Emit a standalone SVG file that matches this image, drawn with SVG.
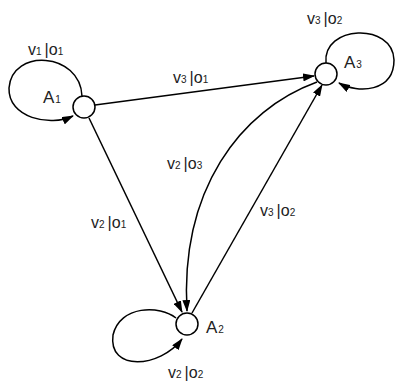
<svg xmlns="http://www.w3.org/2000/svg" width="396" height="383" viewBox="0 0 396 383">
  <style>
    .edge { fill: none; stroke: #000; stroke-width: 1.5; }
    .state { fill: #fff; stroke: #000; stroke-width: 1.5; }
    .lbl { font-family: "Liberation Sans", Arial, sans-serif; font-size: 16px; fill: #222; }
    .sub { font-size: 10px; }
    .name { font-family: "Liberation Sans", Arial, sans-serif; font-size: 17px; fill: #222; }
  </style>
  <defs>
    <marker id="arrow" markerWidth="12" markerHeight="8" refX="11" refY="4" orient="auto" markerUnits="userSpaceOnUse">
      <path d="M0,0 L12,4 L0,8 Z" fill="#000"/>
    </marker>
  </defs>
  <rect width="396" height="383" fill="#fff"/>

  <g id="connectors">
    <!-- self loops -->
    <path class="edge" d="M82,96 C80,52 12,48 9,88 C8,118 50,127 73,116" marker-end="url(#arrow)"/>
    <path class="edge" d="M326,63 C322,25 393,22 394,60 C394,92 358,94 339,83" marker-end="url(#arrow)"/>
    <path class="edge" d="M176,318 C160,305 120,305 113,335 C108,372 160,368 182,339" marker-end="url(#arrow)"/>
    <!-- transitions between states -->
    <path class="edge" d="M95,105 L314,76" marker-end="url(#arrow)"/>
    <path class="edge" d="M89,118 L182,312" marker-end="url(#arrow)"/>
    <path class="edge" d="M317,82 C240,110 180,190 187,311" marker-end="url(#arrow)"/>
    <path class="edge" d="M192,313 L322,85" marker-end="url(#arrow)"/>
  </g>

  <g id="A1">
    <circle class="state" cx="84" cy="107" r="11"/>
    <text class="name" x="43" y="103">A<tspan class="sub" dx="1">1</tspan></text>
  </g>
  <g id="A2">
    <circle class="state" cx="187" cy="324" r="11"/>
    <text class="name" x="206" y="333">A<tspan class="sub" dx="1">2</tspan></text>
  </g>
  <g id="A3">
    <circle class="state" cx="326" cy="74" r="11"/>
    <text class="name" x="344" y="68">A<tspan class="sub" dx="1">3</tspan></text>
  </g>

  <g id="labels">
    <text class="lbl" x="28" y="55">v<tspan class="sub">1</tspan><tspan dx="3">|</tspan>o<tspan class="sub">1</tspan></text>
    <text class="lbl" x="307" y="24">v<tspan class="sub">3</tspan><tspan dx="3">|</tspan>o<tspan class="sub">2</tspan></text>
    <text class="lbl" x="173" y="83">v<tspan class="sub">3</tspan><tspan dx="3">|</tspan>o<tspan class="sub">1</tspan></text>
    <text class="lbl" x="167" y="169">v<tspan class="sub">2</tspan><tspan dx="3">|</tspan>o<tspan class="sub">3</tspan></text>
    <text class="lbl" x="260" y="216">v<tspan class="sub">3</tspan><tspan dx="3">|</tspan>o<tspan class="sub">2</tspan></text>
    <text class="lbl" x="91" y="228">v<tspan class="sub">2</tspan><tspan dx="3">|</tspan>o<tspan class="sub">1</tspan></text>
    <text class="lbl" x="168" y="378">v<tspan class="sub">2</tspan><tspan dx="3">|</tspan>o<tspan class="sub">2</tspan></text>
  </g>
</svg>
